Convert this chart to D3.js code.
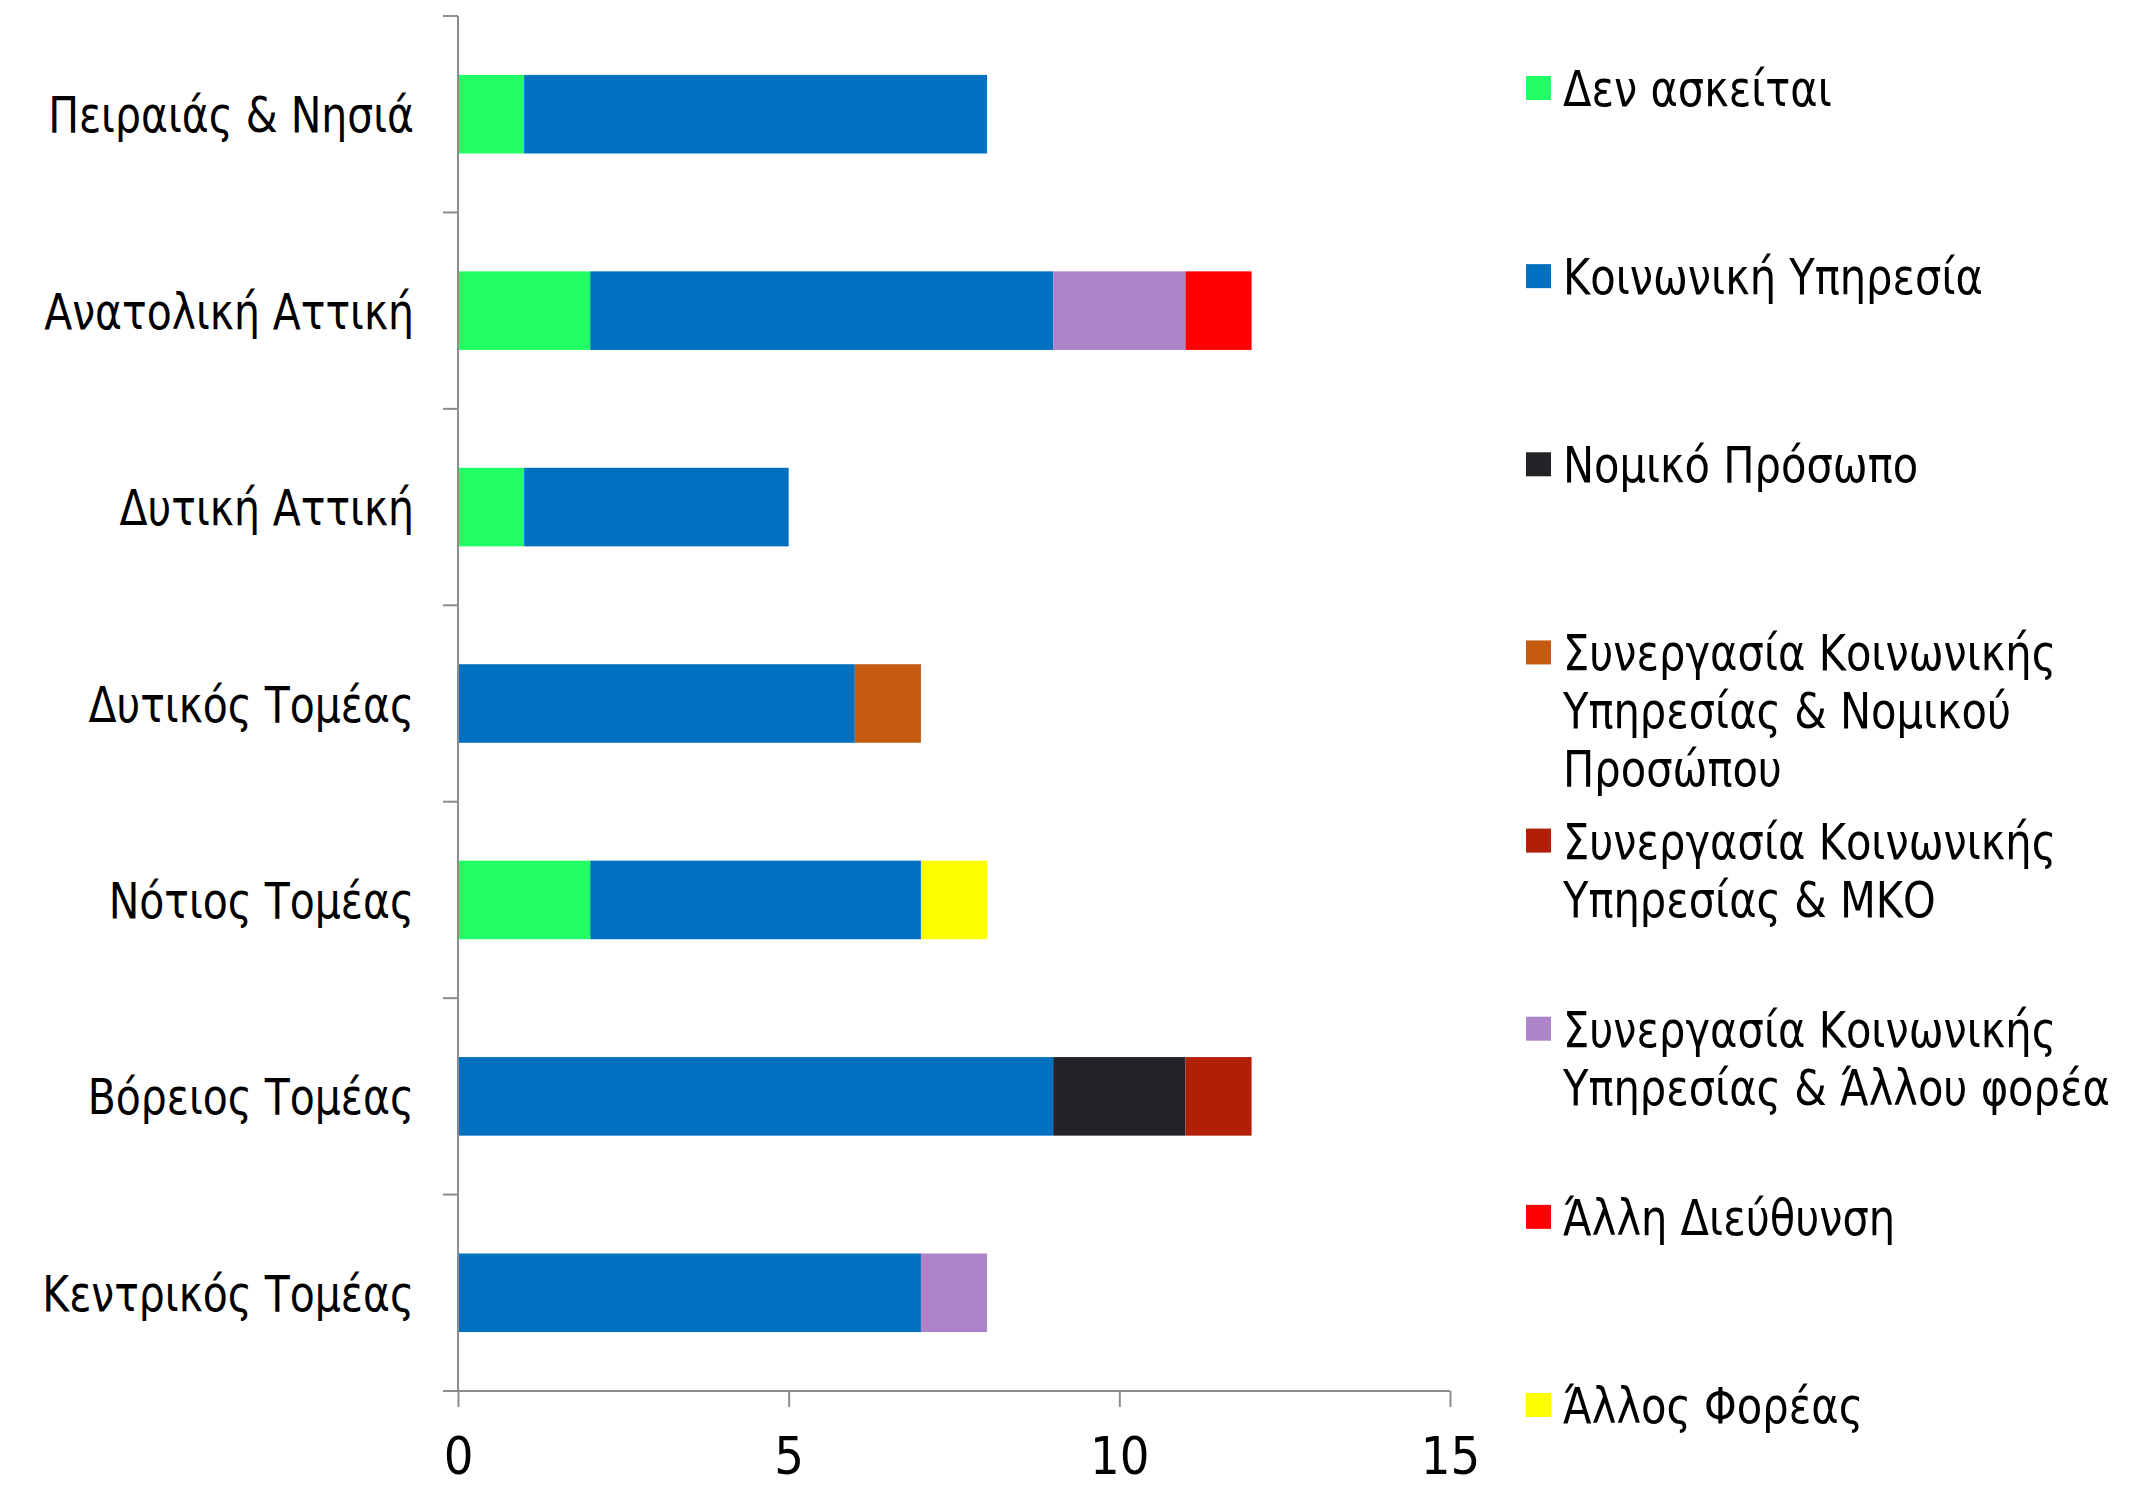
<!DOCTYPE html>
<html><head><meta charset="utf-8">
<script src="https://cdn.jsdelivr.net/npm/d3@7/dist/d3.min.js"></script>
<style>
html,body{margin:0;padding:0;background:#fff;}
text{font-family:"DejaVu Sans Condensed","DejaVu Sans",sans-serif;fill:#000;}
</style></head>
<body>
<svg id="chart" width="2133" height="1487"></svg>
<script>
const categories = ["Πειραιάς & Νησιά","Ανατολική Αττική","Δυτική Αττική","Δυτικός Τομέας","Νότιος Τομέας","Βόρειος Τομέας","Κεντρικός Τομέας"];
const seriesNames = ["Δεν ασκείται","Κοινωνική Υπηρεσία","Νομικό Πρόσωπο","Συνεργασία Κοινωνικής Υπηρεσίας & Νομικού Προσώπου","Συνεργασία Κοινωνικής Υπηρεσίας & ΜΚΟ","Συνεργασία Κοινωνικής Υπηρεσίας & Άλλου φορέα","Άλλη Διεύθυνση","Άλλος Φορέας"];
const legendLines = [["Δεν ασκείται"],["Κοινωνική Υπηρεσία"],["Νομικό Πρόσωπο"],["Συνεργασία Κοινωνικής","Υπηρεσίας & Νομικού","Προσώπου"],["Συνεργασία Κοινωνικής","Υπηρεσίας & ΜΚΟ"],["Συνεργασία Κοινωνικής","Υπηρεσίας & Άλλου φορέα"],["Άλλη Διεύθυνση"],["Άλλος Φορέας"]];
const colors = ["#22FF66","#0070C0","#232428","#C55A11","#B01F06","#AD84C8","#FF0000","#FFFF00"];
// values per series, in category order
const denAskeitai   = [1,2,1,0,2,0,0];
const koinYpiresia  = [7,7,4,6,5,9,7];
const nomikoProsopo = [0,0,0,0,0,2,0];
const synNomikou    = [0,0,0,1,0,0,0];
const synMKO        = [0,0,0,0,0,1,0];
const synAllou      = [0,2,0,0,0,0,1];
const allhDieuth    = [0,1,0,0,0,0,0];
const allosForeas   = [0,0,0,0,1,0,0];
const seriesValues = [denAskeitai,koinYpiresia,nomikoProsopo,synNomikou,synMKO,synAllou,allhDieuth,allosForeas];
const xTicks = [0,5,10,15];

const svg = d3.select("#chart");
const mLeft = 458, mRight = 1450, mTop = 16, mBottom = 1391;
const x = d3.scaleLinear().domain([0,15]).range([mLeft,mRight]);
const y = d3.scaleBand().domain(categories).range([mTop,mBottom]).paddingInner(0.6).paddingOuter(0.3);

const rows = categories.map((c,i)=>{const o={cat:c}; seriesNames.forEach((s,j)=>o[s]=seriesValues[j][i]); return o;});
const stacked = d3.stack().keys(seriesNames)(rows);

svg.append("g").selectAll("g").data(stacked).join("g")
  .attr("fill",(d,i)=>colors[i])
  .selectAll("rect").data(d=>d).join("rect")
  .attr("x",d=>x(d[0])).attr("width",d=>x(d[1])-x(d[0]))
  .attr("y",d=>y(d.data.cat)).attr("height",y.bandwidth());

const axisColor = "#8c8c8c";
// y axis
const yb = d3.scaleLinear().domain([0,categories.length]).range([mTop,mBottom]);
const gy = svg.append("g");
gy.append("line").attr("x1",mLeft).attr("x2",mLeft).attr("y1",mTop).attr("y2",mBottom).attr("stroke",axisColor).attr("stroke-width",2);
gy.selectAll("line.t").data(d3.range(categories.length)).join("line").attr("class","t")
  .attr("x1",mLeft-15).attr("x2",mLeft).attr("y1",d=>yb(d)).attr("y2",d=>yb(d)).attr("stroke",axisColor).attr("stroke-width",2);
gy.selectAll("text").data(categories).join("text")
  .attr("transform",d=>`translate(414,${y(d)+y.bandwidth()/2}) scale(0.91,1)`)
  .attr("dy","0.36em")
  .attr("text-anchor","end").attr("font-size",50).text(d=>d);

// x axis
const gx = svg.append("g").attr("transform",`translate(0,${mBottom})`)
  .call(d3.axisBottom(x).tickValues(xTicks).tickSize(16).tickFormat(d3.format("d")));
gx.select(".domain").remove();
gx.insert("line",":first-child").attr("x1",mLeft-15).attr("x2",mRight).attr("y1",0).attr("y2",0).attr("stroke",axisColor).attr("stroke-width",2);
gx.selectAll(".tick line").attr("stroke",axisColor).attr("stroke-width",2);
gx.selectAll(".tick text").attr("font-size",52).attr("y",83).attr("dy",0).attr("fill","#000")
  .style("font-family",'"DejaVu Sans Condensed","DejaVu Sans",sans-serif');

// legend
const lg = svg.append("g");
const legY = d3.scaleLinear().domain([0,seriesNames.length-1]).range([88,1405]);
seriesNames.forEach((s,i)=>{
  const g = lg.append("g").attr("transform",`translate(1526,${legY(i)})`);
  g.append("rect").attr("x",0).attr("y",-12).attr("width",25).attr("height",24).attr("fill",colors[i]);
  g.selectAll("text").data(legendLines[i]).join("text")
    .attr("transform",(d,k)=>`translate(37,${k*58}) scale(0.925,1)`)
    .attr("dy","0.36em").attr("font-size",50).text(d=>d);
});
</script>
</body></html>
